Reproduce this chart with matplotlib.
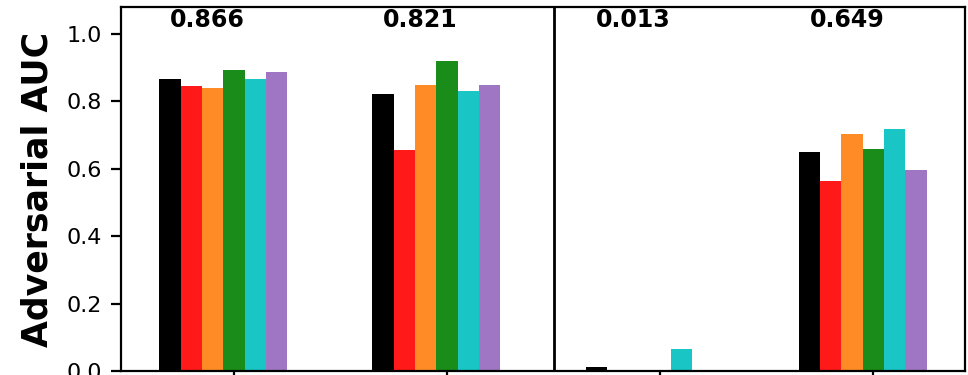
import numpy as np
import matplotlib
matplotlib.use("Agg")
import matplotlib.pyplot as plt

# AUC per method (rows) for each of the four settings (columns)
auc_black = [0.866, 0.821, 0.013, 0.649]
auc_red = [0.845, 0.655, 0.0, 0.564]
auc_orange = [0.840, 0.850, 0.0, 0.702]
auc_green = [0.892, 0.920, 0.0, 0.659]
auc_cyan = [0.866, 0.830, 0.066, 0.718]
auc_purple = [0.887, 0.850, 0.0, 0.595]

series = [auc_black, auc_red, auc_orange, auc_green, auc_cyan, auc_purple]
colors = ["black", "red", "tab:orange", "green", "c", "tab:purple"]
alphas = [1.0, 0.9, 0.9, 0.9, 0.9, 0.9]

x = np.arange(4)
width = 0.1

fig = plt.figure(figsize=(4.84, 1.875), dpi=200)
ax = fig.add_axes([121 / 968, 4 / 375, (965 - 121) / 968, (371 - 7) / 375])

for i, (vals, col, a) in enumerate(zip(series, colors, alphas)):
    ax.bar(x + (i - 3) * width, vals, width, color=col, alpha=a)

# headline value (first method) above each group
for xi, v in zip(x, auc_black):
    ax.text(xi - 0.3, 1.04, f"{v:.3f}", ha="left", va="center",
            fontsize=8.5, fontweight="bold")

ax.axvline(1.5, color="black", lw=1.0)

ax.set_ylim(0, 1.08)
ax.set_xticks(x)
ax.set_xticklabels([])
ax.tick_params(axis="y", labelsize=8)
ax.set_ylabel("Adversarial AUC", fontsize=12.5, fontweight="bold")

fig.savefig("out.png", dpi=200)
